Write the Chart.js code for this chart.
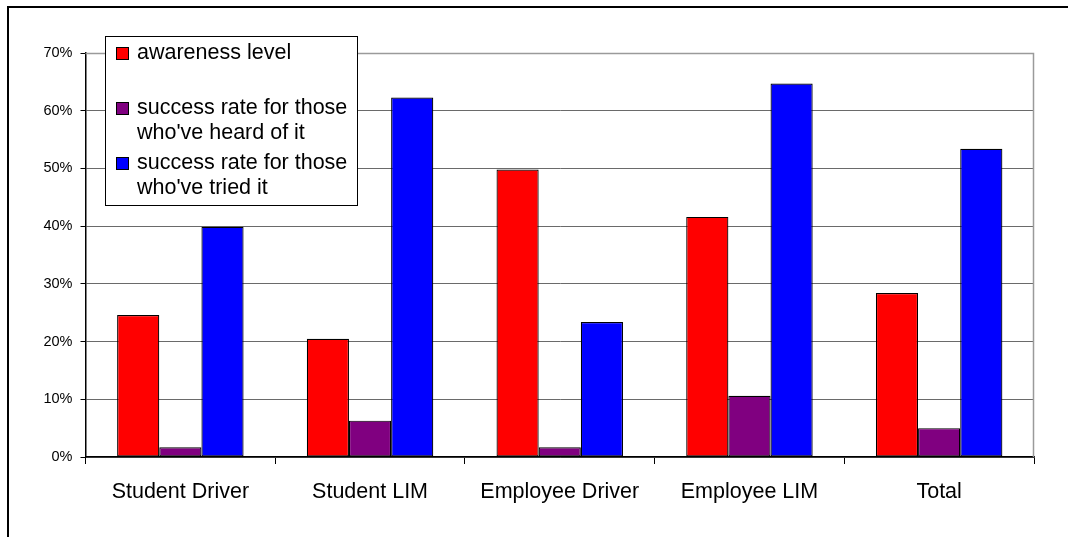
<!DOCTYPE html>
<html>
<head>
<meta charset="utf-8">
<script src="https://cdn.jsdelivr.net/npm/chart.js@4"></script>
<style>
  html, body { margin: 0; padding: 0; background: #fff; }
  #wrap { width: 1068px; height: 537px; position: relative; }
</style>
</head>
<body>
<div id="wrap"><canvas id="c" width="1068" height="537"></canvas></div>
<script>
const categories = ["Student Driver", "Student LIM", "Employee Driver", "Employee LIM", "Total"];
const awareness = [24.6, 20.5, 49.8, 41.6, 28.4];
const successHeard = [1.7, 6.3, 1.7, 10.6, 5.0];
const successTried = [39.9, 62.3, 23.4, 64.7, 53.4];
const seriesLabels = [
  ["awareness level"],
  ["success rate for those", "who've heard of it"],
  ["success rate for those", "who've tried it"]
];
const seriesColors = ["#ff0000", "#800080", "#0000ff"];
const yTicks = [0, 10, 20, 30, 40, 50, 60, 70];

const FONT = "'Liberation Sans', Arial, sans-serif";

const frame = {
  id: 'frame',
  beforeDraw(chart) {
    const ctx = chart.ctx;
    ctx.save();
    ctx.fillStyle = '#fff';
    ctx.fillRect(0, 0, chart.width, chart.height);
    ctx.strokeStyle = '#000';
    ctx.lineWidth = 2;
    ctx.strokeRect(8, 7, 1200, 700);
    ctx.restore();
  },
  beforeDatasetsDraw(chart) {
    const a = chart.chartArea, ctx = chart.ctx;
    ctx.save();
    ctx.strokeStyle = '#9a9a9a';
    ctx.lineWidth = 1.5;
    ctx.beginPath();
    ctx.moveTo(a.left, a.top + 0.5);
    ctx.lineTo(a.right - 0.5, a.top + 0.5);
    ctx.lineTo(a.right - 0.5, a.bottom);
    ctx.stroke();
    ctx.restore();
  },
  afterDraw(chart) {
    const ctx = chart.ctx;
    ctx.save();
    const bx = 105.5, by = 36.5, bw = 252, bh = 169;
    ctx.fillStyle = '#fff';
    ctx.fillRect(bx, by, bw, bh);
    ctx.strokeStyle = '#000';
    ctx.lineWidth = 1;
    ctx.strokeRect(bx, by, bw, bh);
    const centers = [53.5, 108.5, 163.5];
    ctx.font = '21.5px ' + FONT;
    ctx.textBaseline = 'middle';
    ctx.textAlign = 'left';
    chart.data.datasets.forEach((ds, i) => {
      const cy = centers[i];
      ctx.fillStyle = ds.backgroundColor;
      ctx.fillRect(116.5, cy - 6, 12, 12);
      ctx.strokeStyle = '#000';
      ctx.strokeRect(116.5, cy - 6, 12, 12);
      ctx.fillStyle = '#000';
      ds.legendLines.forEach((t, j) => ctx.fillText(t, 137, cy + j * 25));
    });
    ctx.restore();
  }
};

new Chart(document.getElementById('c'), {
  type: 'bar',
  data: {
    labels: categories,
    datasets: [awareness, successHeard, successTried].map((d, i) => ({
      label: seriesLabels[i].join(' '),
      legendLines: seriesLabels[i],
      data: d,
      backgroundColor: seriesColors[i],
      borderColor: '#000',
      borderWidth: 1.2,
      borderSkipped: false,
      categoryPercentage: 3 / 4.5,
      barPercentage: 1
    }))
  },
  options: {
    responsive: false,
    animation: false,
    devicePixelRatio: 1,
    layout: { padding: { left: 0, top: 53, right: 34, bottom: 0 } },
    plugins: { legend: { display: false }, tooltip: { enabled: false } },
    scales: {
      x: {
        afterFit(s) { s.height = 80; },
        grid: { display: true, drawOnChartArea: false, drawTicks: true, tickLength: 7, color: '#000', offset: true },
        border: { display: true, color: '#000', width: 1.5 },
        ticks: { color: '#000', font: { family: FONT, size: 21.5 }, padding: 15 }
      },
      y: {
        min: 0, max: 70,
        afterFit(s) { s.width = 85.5; },
        afterBuildTicks(s) { s.ticks = yTicks.map(v => ({ value: v })); },
        grid: { color: '#6a6a6a', lineWidth: 1, drawTicks: true, tickLength: 5, tickColor: '#000' },
        border: { display: true, color: '#000', width: 1.5 },
        ticks: { color: '#000', font: { family: FONT, size: 14.5 }, padding: 8, callback: v => v + '%' }
      }
    }
  },
  plugins: [frame]
});
</script>
</body>
</html>
